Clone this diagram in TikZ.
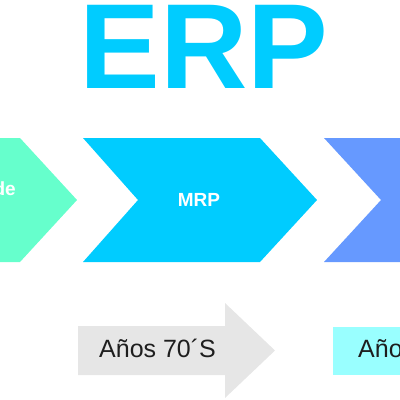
\documentclass[tikz,border=0pt]{standalone}
\usepackage{fontspec}
\setmainfont{Liberation Sans}
\definecolor{erpblue}{RGB}{0,204,255}
\definecolor{chevgreen}{RGB}{102,255,204}
\definecolor{chevblue}{RGB}{0,204,255}
\definecolor{chevviolet}{RGB}{102,153,255}
\definecolor{arrowgray}{RGB}{230,230,230}
\definecolor{boxcyan}{RGB}{153,255,255}
\definecolor{darktext}{RGB}{30,30,30}
\tikzset{
  chevlabel/.style={inner sep=0pt, text=white, font=\bfseries\fontsize{19}{19}\selectfont},
  eralabel/.style={inner sep=0pt, anchor=base west, text=darktext, font=\fontsize{25}{25}\selectfont}
}
\begin{document}
\begin{tikzpicture}[x=1pt,y=-1pt]
\useasboundingbox (0,0) rectangle (400,400);
\clip (0,0) rectangle (400,400);
% title
\node[inner sep=0pt, anchor=base, text=erpblue, font=\bfseries\fontsize{121}{121}\selectfont] (erp) at (204,88) {ERP};
% chevrons
\fill[chevgreen] (-60,138) -- (20,138) -- (77,200) -- (20,262) -- (-60,262) -- cycle;
\fill[chevblue] (83,138) -- (260,138) -- (317,200) -- (260,262) -- (83,262) -- (138,200) -- cycle;
\fill[chevviolet] (324,138) -- (460,138) -- (460,262) -- (324,262) -- (381,200) -- cycle;
\node[chevlabel, anchor=east] (de) at (16,189) {de};
\node[chevlabel] (mrp) at (199,200) {MRP};
% bottom
\fill[arrowgray] (78,326) -- (225,326) -- (225,303) -- (275,350.5) -- (225,398) -- (225,375) -- (78,375) -- cycle;
\node[eralabel] (a70) at (99,357) {Años 70´S};
\fill[boxcyan] (333,327) rectangle (470,375);
\node[eralabel] (a80) at (358,357) {Años 80´S};
\end{tikzpicture}
\end{document}
